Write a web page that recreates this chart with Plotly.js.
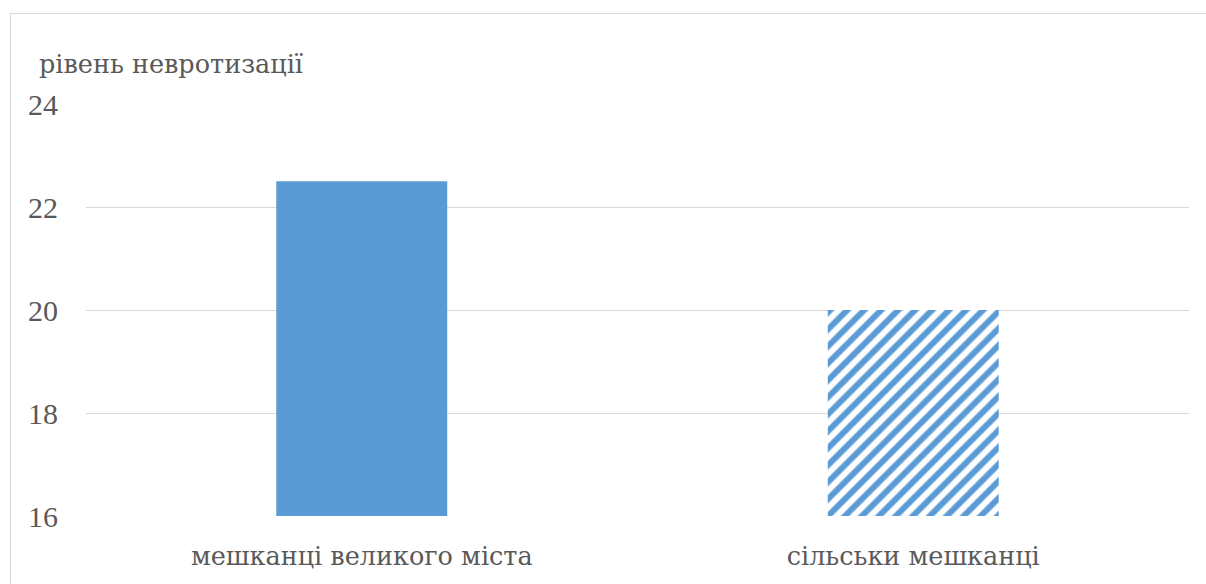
<!DOCTYPE html>
<html>
<head>
<meta charset="utf-8">
<script src="https://cdn.plot.ly/plotly-3.0.1.min.js"></script>
<style>
html,body{margin:0;padding:0;background:#fff;overflow:hidden;}
#frame{position:absolute;left:10px;top:13px;width:1400px;height:800px;border:1px solid #d9d9d9;box-sizing:border-box;}
#chart{position:absolute;left:0;top:0;width:1206px;height:584px;}
</style>
</head>
<body>
<div id="frame"></div>
<div id="chart"></div>
<script>
const categories = ["мешканці великого міста", "сільськи мешканці"];
const values = [22.5, 20];
const tickVals = [16, 18, 20, 22, 24];
const axisLabel = "рівень невротизації";

const font = "Liberation Serif, serif";
const cyrFont = "DejaVu Serif, serif";
const textColor = "#595959";
const blue = "#5B9BD5";

const solidTrace = {
  type: "bar",
  x: [categories[0]],
  y: [values[0]],
  width: 0.31,
  marker: {color: blue, line: {width: 0}},
  hoverinfo: "none"
};
const hatchTrace = {
  type: "bar",
  x: [categories[1]],
  y: [values[1]],
  width: 0.31,
  marker: {
    color: "#ffffff",
    line: {width: 0},
    pattern: {
      shape: "/",
      fillmode: "replace",
      fgcolor: blue,
      bgcolor: "#ffffff",
      fgopacity: 1,
      size: 12,
      solidity: 0.5
    }
  },
  hoverinfo: "none"
};

const layout = {
  width: 1206,
  height: 584,
  margin: {l: 86, r: 17, t: 104, b: 68},
  paper_bgcolor: "rgba(0,0,0,0)",
  plot_bgcolor: "rgba(0,0,0,0)",
  showlegend: false,
  barmode: "overlay",
  font: {family: font, color: textColor, size: 24},
  xaxis: {
    categoryorder: "array",
    categoryarray: categories,
    showgrid: false,
    zeroline: false,
    showline: false,
    ticks: "",
    tickfont: {family: cyrFont, color: textColor, size: 25.5},
    ticklabelstandoff: 22
  },
  yaxis: {
    range: [16, 24],
    tickvals: tickVals,
    ticktext: tickVals.map(String),
    showgrid: true,
    gridcolor: "#d9d9d9",
    gridwidth: 1,
    zeroline: false,
    showline: false,
    ticks: "",
    ticklabelstandoff: 27,
    tickfont: {family: font, color: textColor, size: 30}
  },
  annotations: [{
    text: axisLabel,
    xref: "paper", yref: "paper",
    x: -0.044, y: 1.055,
    xanchor: "left", yanchor: "bottom",
    showarrow: false,
    font: {family: cyrFont, color: textColor, size: 25.5}
  }]
};

Plotly.newPlot("chart", [solidTrace, hatchTrace], layout, {displayModeBar: false});
</script>
</body>
</html>
